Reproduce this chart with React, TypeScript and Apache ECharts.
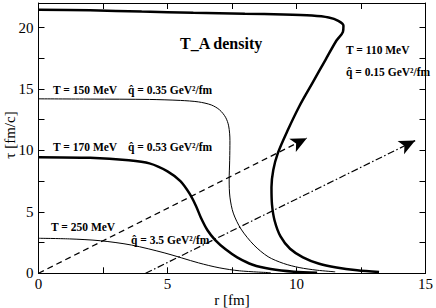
import React, { useEffect, useRef } from 'react';
import * as echarts from 'echarts';

// [r (fm), tau (fm/c)] points
const curve110: number[][] = [
  [0, 21.45], [2, 21.4], [4, 21.3], [6, 21.2], [8, 21.12], [9.5, 21.07], [10.6, 20.98],
  [11.25, 20.82], [11.62, 20.55], [11.82, 20.15], [11.8, 19.65], [11.55, 18.95],
  [11.13, 17.4], [10.62, 15.5], [10.11, 13.6], [9.65, 11.6], [9.28, 9.8], [9.1, 8.4],
  [9.03, 7.0], [9.05, 5.6], [9.15, 4.3], [9.38, 3.0], [9.75, 2.0], [10.25, 1.3],
  [10.85, 0.8], [11.55, 0.48], [12.35, 0.25], [13.2, 0.1],
];
const curve150: number[][] = [
  [0, 14.2], [2, 14.18], [4.3, 14.15], [5.5, 14.07], [6.2, 13.95], [6.7, 13.7],
  [7.02, 13.3], [7.25, 12.7], [7.37, 12.0], [7.42, 10.8], [7.41, 9.2], [7.39, 7.6],
  [7.42, 6.2], [7.55, 4.9], [7.85, 3.6], [8.35, 2.3], [8.9, 1.35], [9.5, 0.8],
  [10.1, 0.47], [10.8, 0.25], [11.5, 0.12],
];
const curve170: number[][] = [
  [0, 9.45], [2, 9.4], [3.5, 9.2], [4.3, 8.95], [5.0, 8.3], [5.5, 7.5], [5.85, 6.5],
  [6.1, 5.5], [6.3, 4.5], [6.55, 3.5], [6.85, 2.7], [7.25, 1.95], [7.7, 1.3],
  [8.3, 0.7], [9.0, 0.35], [9.9, 0.13], [10.8, 0.05],
];
const curve250: number[][] = [
  [0, 2.85], [1.2, 2.8], [2.4, 2.65], [3.6, 2.3], [4.9, 1.65], [6.2, 0.85],
  [7.0, 0.45], [7.8, 0.2], [9, 0.05],
];
const dashedArrow: number[][] = [[0, 0], [10.4, 11.0]];
const dashDotArrow: number[][] = [[4.15, 0], [14.6, 10.8]];

const xLabelValues = [0, 5, 10, 15];
const yLabelValues = [0, 5, 10, 15, 20];

const FONT = 'Liberation Serif, Times New Roman, serif';

export default function App() {
  const ref = useRef<HTMLDivElement>(null);
  useEffect(() => {
    if (!ref.current) return;
    const chart = echarts.init(ref.current, null, { renderer: 'svg' });
    const axisCommon = {
      type: 'value' as const,
      axisLine: { show: true, onZero: false, lineStyle: { color: '#000', width: 1 } },
      axisTick: { show: true, inside: true, length: 6, lineStyle: { color: '#000', width: 1 } },
      splitLine: { show: false },
    };
    const thin = { color: '#000', width: 1 };
    const thick = { color: '#000', width: 2.5 };
    const lineSeries = (data: number[][], ls: any, extra: any = {}) => ({
      type: 'line',
      data,
      smooth: 0.3,
      showSymbol: false,
      symbol: 'none',
      lineStyle: ls,
      silent: true,
      ...extra,
    });
    const arrowMark = (pts: number[][], dash: number[]) => ({
      silent: true,
      symbol: ['none', 'arrow'],
      symbolSize: [11, 16],
      itemStyle: { color: '#000' },
      label: { show: false },
      lineStyle: { color: '#000', width: 1.2, type: dash },
      data: [[{ coord: pts[0] }, { coord: pts[1] }]],
    });
    const qhat = (v: string) => 'q\u0302 = ' + v + ' GeV\u00B2/fm';
    const note = (text: string, x: number, y: number, size = 11.5) => ({
      type: 'text',
      x,
      y,
      style: {
        text,
        fill: '#000',
        fontFamily: FONT,
        fontWeight: 'bold',
        fontSize: size,
        align: 'left',
        verticalAlign: 'middle',
      },
    });
    chart.setOption({
      animation: false,
      textStyle: { fontFamily: FONT },
      grid: { left: 38.5, right: 7.5, top: 3, bottom: 34.7, containLabel: false },
      xAxis: [
        {
          ...axisCommon,
          position: 'bottom',
          min: 0,
          max: 15,
          interval: 2.5,
          axisLabel: {
            color: '#000',
            fontFamily: FONT,
            fontSize: 15,
            margin: 3,
            formatter: (v: number) => (xLabelValues.includes(v) ? String(v) : ''),
          },
        },
        {
          ...axisCommon,
          position: 'top',
          min: 0,
          max: 15,
          interval: 2.5,
          axisLabel: { show: false },
        },
      ],
      yAxis: [
        {
          ...axisCommon,
          position: 'left',
          min: 0,
          max: 22,
          interval: 2.5,
          axisLabel: {
            color: '#000',
            fontFamily: FONT,
            fontSize: 15,
            margin: 5,
            formatter: (v: number) => (yLabelValues.includes(v) ? String(v) : ''),
          },
        },
        {
          ...axisCommon,
          position: 'right',
          min: 0,
          max: 22,
          interval: 2.5,
          axisLabel: { show: false },
        },
      ],
      series: [
        lineSeries(curve110, thick),
        lineSeries(curve150, thin),
        lineSeries(curve170, thick),
        lineSeries(curve250, thin, {
          markLine: arrowMark(dashedArrow, [6, 4]),
        }),
        lineSeries(curve250, { ...thin, opacity: 0 }, {
          markLine: arrowMark(dashDotArrow, [7, 2.5, 1.5, 2.5]),
        }),
      ],
      graphic: [
        note('T_A density', 180, 43, 16),
        note('T = 110 MeV', 346, 50),
        note(qhat('0.15'), 346, 72),
        note('T = 150 MeV', 53, 90),
        note(qhat('0.35'), 128, 90),
        note('T = 170 MeV', 53, 147),
        note(qhat('0.53'), 128, 147),
        note('T = 250 MeV', 51, 227),
        note(qhat('3.5'), 131, 240),
        {
          type: 'text',
          x: 232,
          y: 300,
          style: {
            text: 'r [fm]',
            fill: '#000',
            fontFamily: FONT,
            fontSize: 15,
            align: 'center',
            verticalAlign: 'middle',
          },
        },
        {
          type: 'text',
          x: 10,
          y: 135,
          rotation: Math.PI / 2,
          style: {
            text: '\u03C4 [fm/c]',
            fill: '#000',
            fontFamily: FONT,
            fontSize: 15,
            align: 'center',
            verticalAlign: 'middle',
          },
        },
      ],
    });
    return () => chart.dispose();
  }, []);
  return <div ref={ref} style={{ width: 436, height: 308, position: 'absolute', left: 0, top: 0 }} />;
}
